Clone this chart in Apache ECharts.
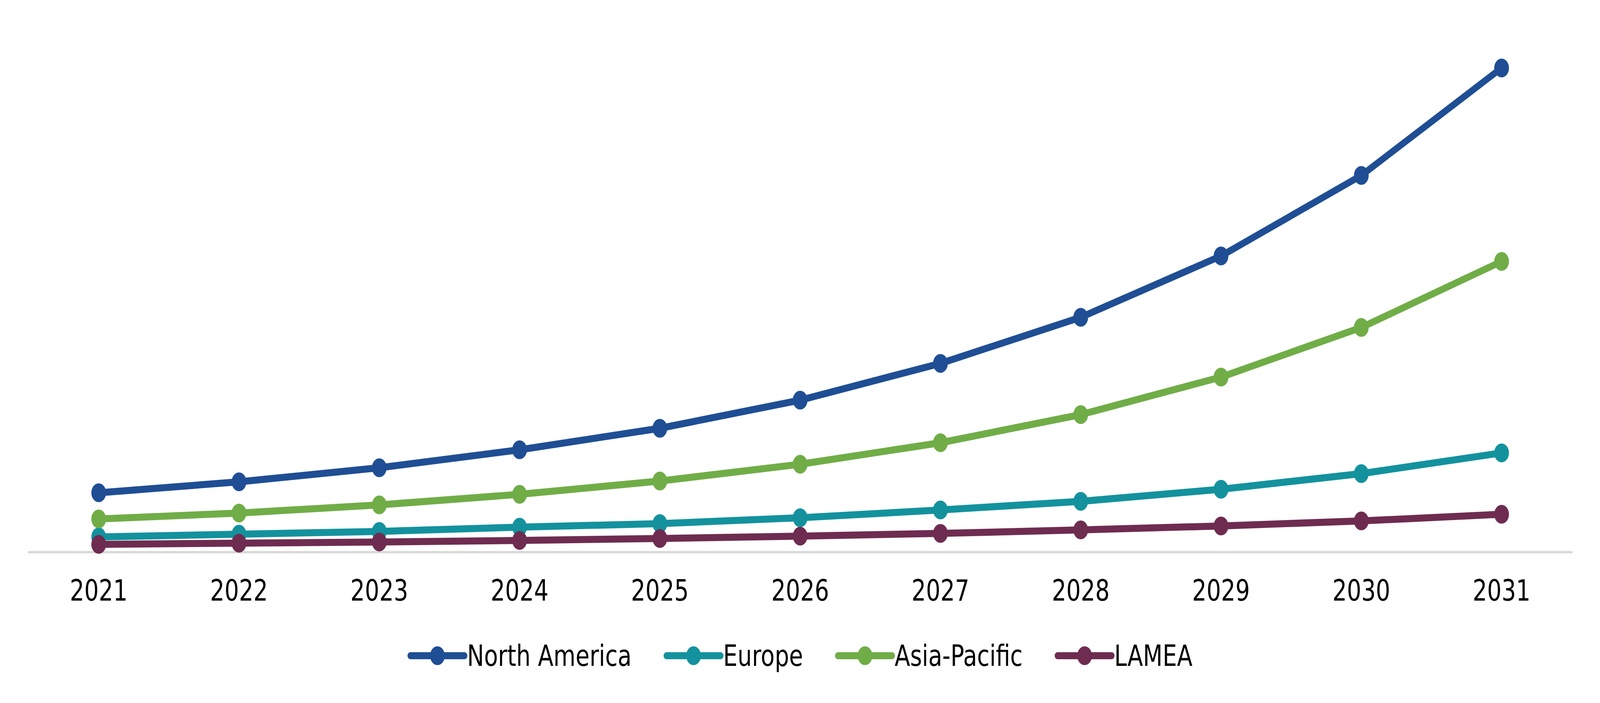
<!DOCTYPE html>
<html>
<head>
<meta charset="utf-8">
<script src="https://cdn.jsdelivr.net/npm/echarts@6/dist/echarts.min.js"></script>
<style>
html,body{margin:0;padding:0;background:#fff;overflow:hidden;}
#chart{width:5209px;height:1799px;transform-origin:0 0;}
</style>
</head>
<body>
<div id="chart"></div>
<script>
const years = ['2021','2022','2023','2024','2025','2026','2027','2028','2029','2030','2031'];
const northAmerica = [152, 180, 216, 262, 317, 389, 483, 601, 758, 964, 1239];
const europe       = [39, 46, 53, 64, 73, 88, 108, 130, 161, 201, 254];
const asiaPacific  = [85, 100, 121, 148, 182, 225, 280, 352, 448, 575, 744];
const lamea        = [20, 23, 26, 30, 35, 41, 48, 57, 67, 80, 97];
const seriesNames  = ['North America', 'Europe', 'Asia-Pacific', 'LAMEA'];
const seriesColors = ['#1F4E94', '#13929E', '#70AD47', '#6E2C50'];
const seriesData   = [northAmerica, europe, asiaPacific, lamea];

// design size of the reference; fit it to whatever viewport the browser really gives
const W = 5209, H = 1799;
const el = document.getElementById('chart');
const sx = (window.innerWidth || W) / W;
const sy = (window.innerHeight || H) / H;
if (Math.abs(sx - 1) > 0.001 || Math.abs(sy - 1) > 0.001) {
  el.style.transform = 'scale(' + sx + ',' + sy + ')';
}

const chart = echarts.init(el, null, {renderer: 'svg', width: W, height: H});
const FONT = '"DejaVu Sans", Verdana, sans-serif';
chart.setOption({
  backgroundColor: '#ffffff',
  animation: false,
  grid: {left: 93, right: 92, top: 13, bottom: 386, containLabel: false},
  legend: {
    left: 'center',
    top: 1636,
    itemWidth: 177,
    itemHeight: 60,
    itemGap: 104,
    lineStyle: {width: 18, cap: 'round'},
    textStyle: {fontFamily: FONT, fontSize: 74, color: '#000000', padding: [0, 0, 0, 3]},
    data: seriesNames
  },
  xAxis: {
    type: 'category',
    data: years,
    boundaryGap: true,
    axisTick: {show: false},
    axisLine: {show: true, lineStyle: {color: '#D9D9D9', width: 6}},
    axisLabel: {fontFamily: FONT, fontSize: 74, color: '#000000', margin: 61}
  },
  yAxis: {
    type: 'value',
    min: 0,
    max: 1400,
    show: false,
    splitLine: {show: false}
  },
  series: seriesNames.map((name, i) => ({
    name: name,
    type: 'line',
    data: seriesData[i],
    symbol: 'circle',
    symbolSize: 48,
    showSymbol: true,
    lineStyle: {color: seriesColors[i], width: 18},
    itemStyle: {color: seriesColors[i]},
    emphasis: {disabled: true}
  }))
});
</script>
</body>
</html>
